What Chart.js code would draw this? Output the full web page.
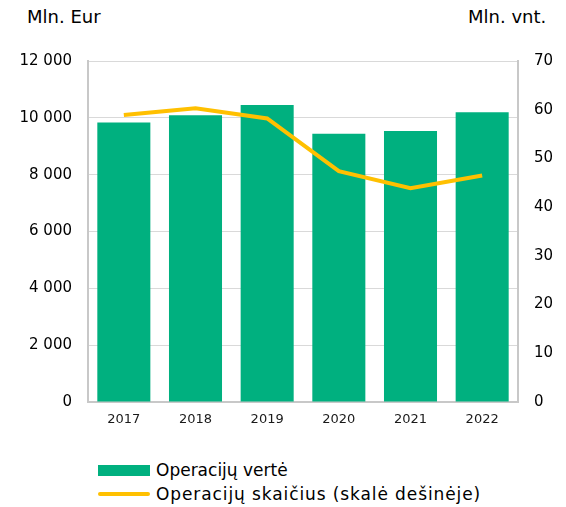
<!DOCTYPE html>
<html>
<head>
<meta charset="utf-8">
<script src="https://cdn.jsdelivr.net/npm/chart.js@4"></script>
<style>
  body { margin: 0; width: 566px; height: 507px; background: #fff; position: relative; font-family: "DejaVu Sans", Verdana, sans-serif; color: #000; }
  #wrap { position: absolute; left: 0; top: 0; width: 566px; height: 440px; }
  .unit { position: absolute; font-size: 18px; top: 6px; }
  #legend { position: absolute; left: 98px; top: 458px; font-size: 17px; }
  .row { display: flex; align-items: center; height: 24px; }
  .sw { width: 52px; margin-right: 6px; flex: none; }
</style>
</head>
<body>
<div class="unit" style="left:27px">Mln. Eur</div>
<div class="unit" style="left:468px">Mln. vnt.</div>
<div id="wrap"><canvas id="chart" width="566" height="440"></canvas></div>
<div id="legend">
  <div class="row"><div class="sw" style="height:11px;background:#00b07f"></div><span>Operacijų vertė</span></div>
  <div class="row"><div class="sw" style="height:4px;background:#ffc000;border-radius:2px"></div><span style="letter-spacing:0.9px">Operacijų skaičius (skalė dešinėje)</span></div>
</div>
<script>
const years = ["2017", "2018", "2019", "2020", "2021", "2022"];
const operValue = [9840, 10090, 10450, 9440, 9540, 10200];
const operCount = [58.9, 60.3, 58.2, 47.4, 43.9, 46.5];

const fmt = (v) => String(v).replace(/\B(?=(\d{3})+(?!\d))/g, " ");

new Chart(document.getElementById("chart"), {
  data: {
    labels: years,
    datasets: [
      {
        type: "line",
        data: operCount,
        yAxisID: "y2",
        borderColor: "#ffc000",
        borderWidth: 4,
        pointRadius: 0,
        tension: 0,
        order: 0,
      },
      {
        type: "bar",
        data: operValue,
        yAxisID: "y",
        backgroundColor: "#00b07f",
        barPercentage: 0.74,
        categoryPercentage: 1,
        order: 1,
      },
    ],
  },
  options: {
    responsive: false,
    animation: false,
    layout: { padding: { top: 61, left: 0, right: 0, bottom: 0 } },
    plugins: { legend: { display: false }, tooltip: { enabled: false } },
    scales: {
      x: {
        grid: { display: false, drawTicks: false },
        border: { color: "#c8c8c8", width: 2 },
        ticks: { color: "#1a1a1a", padding: 10, font: { family: "DejaVu Sans", size: 13 } },
        afterFit: (s) => { s.height = 38; },
      },
      y: {
        position: "left",
        min: 0,
        max: 12000,
        grid: { color: "#d9d9d9", drawTicks: false },
        border: { color: "#c8c8c8", width: 2 },
        ticks: { stepSize: 2000, color: "#000", padding: 16, font: { family: "DejaVu Sans", size: 15 }, callback: (v) => fmt(v) },
        afterFit: (s) => { s.width = 88; },
      },
      y2: {
        position: "right",
        min: 0,
        max: 70,
        grid: { display: false, drawTicks: false },
        border: { color: "#c8c8c8", width: 2 },
        ticks: { stepSize: 10, color: "#000", padding: 16, font: { family: "DejaVu Sans", size: 15 } },
        afterFit: (s) => { s.width = 48; },
      },
    },
  },
});
</script>
</body>
</html>
